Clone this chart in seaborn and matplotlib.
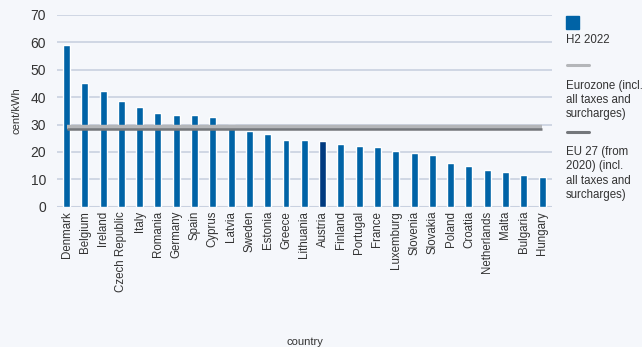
import numpy as np
import pandas as pd
import matplotlib
matplotlib.use("Agg")
import matplotlib.pyplot as plt
import seaborn as sns
from matplotlib.lines import Line2D
from matplotlib.patches import Rectangle

# data
countries = ["Denmark", "Belgium", "Ireland", "Czech Republic", "Italy", "Romania",
             "Germany", "Spain", "Cyprus", "Latvia", "Sweden", "Estonia", "Greece",
             "Lithuania", "Austria", "Finland", "Portugal", "France", "Luxemburg",
             "Slovenia", "Slovakia", "Poland", "Croatia", "Netherlands", "Malta",
             "Bulgaria", "Hungary"]
h2_2022 = [59.0, 45.0, 42.1, 38.5, 36.5, 34.3, 33.6, 33.6, 32.9, 29.8, 27.6, 26.5,
           24.5, 24.2, 24.1, 22.9, 22.3, 22.0, 20.5, 19.8, 19.0, 16.0, 14.9, 13.4,
           12.7, 11.6, 10.9]
eurozone = 29.0
eu27 = 28.3
highlight = "Austria"

bg = "#F5F7FB"
bar_col = "#0063A6"
dark_col = "#003A80"
text_col = "#333333"

df = pd.DataFrame({"country": countries, "value": h2_2022})

sns.set_theme(style="white")
plt.rcParams["font.family"] = ["Liberation Sans", "DejaVu Sans"]

fig = plt.figure(figsize=(6.42, 3.47), dpi=100, facecolor=bg)
ax = fig.add_axes([0.0888, 0.404, 0.7712, 0.553])
ax.set_facecolor(bg)

palette = [dark_col if c == highlight else bar_col for c in countries]
sns.barplot(data=df, x="country", y="value", hue="country", palette=palette,
            legend=False, width=0.38, saturation=1, ax=ax, zorder=3)

# average lines spanning first to last country
ax.plot([0, len(countries) - 1], [eurozone, eurozone], color="#B4B6B9", lw=3.2,
        solid_capstyle="butt", zorder=4)
ax.plot([0, len(countries) - 1], [eu27, eu27], color="#74777B", lw=1.8,
        solid_capstyle="butt", zorder=5)

ax.set_xlim(-0.52, len(countries) - 0.45)
ax.set_ylim(0, 70)
ax.set_yticks(range(0, 71, 10))
ax.yaxis.grid(True, color="#C9D1E0", lw=1.2, zorder=0)
ax.set_axisbelow(True)
for s in ax.spines.values():
    s.set_visible(False)
ax.axhline(0, color="#C9D1E0", lw=1.5, zorder=2)

ax.tick_params(axis="y", labelsize=10, colors=text_col, length=0, pad=8)
ax.tick_params(axis="x", labelsize=8.3, colors=text_col, length=0, pad=3)
plt.setp(ax.get_xticklabels(), rotation=90)
ax.set_ylabel("cent/kWh", fontsize=8, color=text_col, labelpad=6)
ax.set_xlabel("country", fontsize=8, color=text_col)
ax.xaxis.set_label_coords(0.5, -0.68)

# legend drawn on the right, handles above labels
def px(x, y):
    return x / 642, 1 - y / 347

fig.patches.append(Rectangle(px(566, 29), 13 / 642, 13 / 347, transform=fig.transFigure,
                             color=bar_col, figure=fig))
fig.text(*px(566, 40), "H2 2022", fontsize=8.3, color=text_col, va="center")
fig.lines.append(Line2D([px(567, 0)[0], px(589, 0)[0]], [px(0, 65)[1]] * 2,
                        transform=fig.transFigure, color="#B4B6B9", lw=2.2))
fig.text(*px(566, 80), "Eurozone (incl.\nall taxes and\nsurcharges)", fontsize=8.3,
         color=text_col, va="top", linespacing=1.25)
fig.lines.append(Line2D([px(567, 0)[0], px(589, 0)[0]], [px(0, 132)[1]] * 2,
                        transform=fig.transFigure, color="#74777B", lw=2.2))
fig.text(*px(566, 146), "EU 27 (from\n2020) (incl.\nall taxes and\nsurcharges)",
         fontsize=8.3, color=text_col, va="top", linespacing=1.25)

fig.savefig("out.png", dpi=100, facecolor=bg)
